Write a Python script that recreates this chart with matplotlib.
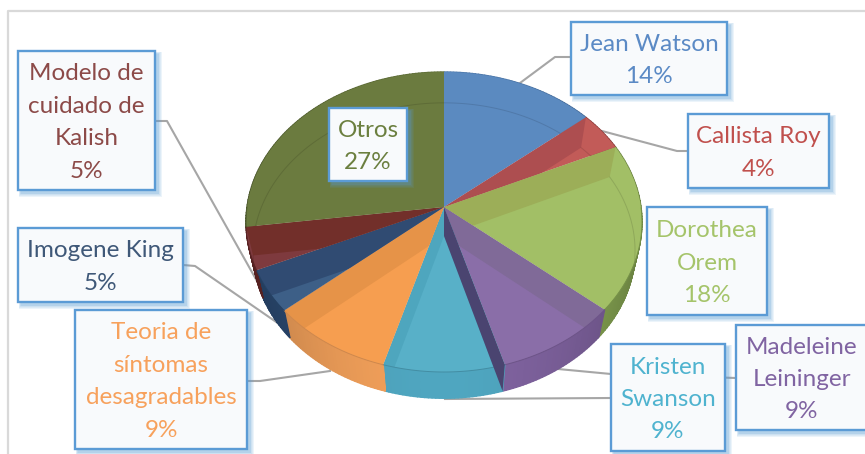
import numpy as np
import matplotlib
matplotlib.use("Agg")
import matplotlib.pyplot as plt
import matplotlib.transforms as mtransforms
from matplotlib.colors import to_rgb
from matplotlib.patches import Rectangle, Polygon

# slices, clockwise from 12 o'clock
names = ["Jean Watson", "Callista Roy", "Dorothea\nOrem", "Madeleine\nLeininger",
         "Kristen\nSwanson", "Teoria de\nsíntomas\ndesagradables", "Imogene King",
         "Modelo de\ncuidado de\nKalish", "Otros"]
values = [13.9, 4.2, 18.1, 9.3, 9.0, 9.2, 4.6, 4.6, 27.1]

top_colors = ["#5B8AC0", "#C25B58", "#A2BF66", "#8A6EA8", "#58B0C8", "#F69E50", "#3D5F87", "#7E3A3E", "#6B7B3F"]
band_colors = ["#5B8AC0", "#AD4E50", "#9CAE58", "#806A98", "#4EA6BE", "#E69348", "#304B72", "#722F2A", "#6B7B3F"]
side_colors = ["#4F7AAD", "#A94A48", "#8BAA55", "#8063A0", "#4FA6C0", "#F2A05A", "#2C4C75", "#6B2A2A", "#5F6E38"]
text_colors = ["#5B8AC5", "#C0504D", "#A5C46A", "#8064A2", "#4FB3CF", "#F7A15C", "#3F5878", "#8C4A48", "#6B7F3F"]

# box left, top, right, bottom in pixels
boxes = [(571, 22, 727, 95), (688, 114, 829, 188), (647, 207, 767, 315), (736, 325, 868, 430),
         (611, 344, 725, 451), (75, 310, 247, 449), (18, 228, 183, 302), (18, 51, 155, 190),
         (329, 108, 407, 181)]

leaders = [[(520, 83), (555, 57), (571, 57)],
           [(602, 131), (677, 151), (688, 151)],
           [(558, 369), (611, 374), (736, 378)],
           [(445, 399), (611, 398)],
           [(330, 371), (260, 381), (247, 381)],
           [(282, 326), (195, 266), (183, 265)],
           [(262, 290), (167, 121), (155, 121)]]

cx, cy = 444, 207
rx, ry, k = 197, 148.5, 0.1
drop = 29


def tilt(x, y):
    # circle seen in perspective, back edge is nearer the apex than the front
    d = 1 + k * y
    return cx + rx * x / d, cy - ry * y / d


def rim(theta, low=False):
    x, y = np.cos(np.radians(theta)), np.sin(np.radians(theta))
    if low:
        px, py = tilt(0.965 * x, 0.985 * y)
        return px, py + drop
    return tilt(x, y)


class Tilt(mtransforms.Transform):
    input_dims = output_dims = 2

    def transform_non_affine(self, xy):
        xy = np.asarray(xy)
        return np.column_stack(tilt(xy[:, 0], xy[:, 1]))


def shade(col, f):
    return tuple(min(1, c * f) for c in to_rgb(col))


fig = plt.figure(figsize=(8.65, 4.54), dpi=100, facecolor="white")
ax = fig.add_axes([0, 0, 1, 1])
wedges, _ = ax.pie(values, startangle=90, counterclock=False, colors=top_colors,
                   wedgeprops=dict(linewidth=0))
ax.set_aspect("auto")
ax.set_xlim(0, 865)
ax.set_ylim(454, 0)
ax.axis("off")

for w in wedges:
    w.set_transform(Tilt() + ax.transData)
    w.set_zorder(3)

# frame
ax.plot([8, 8, 865], [454, 11, 11], color="#D9D9D9", lw=1.6, zorder=0)

for pts in leaders:
    xs, ys = zip(*pts)
    ax.plot(xs, ys, color="#A6A6A6", lw=1.5, zorder=1)

for i, w in enumerate(wedges):
    th = np.arange(w.theta1, w.theta2 + 1, 1.0)
    th[-1] = w.theta2
    # outer wall
    for a, b in zip(th[:-1], th[1:]):
        x1, y1 = rim(a)
        x2, y2 = rim(b)
        x3, y3 = rim(b, True)
        x4, y4 = rim(a, True)
        f = 1 - 0.24 * np.cos(np.radians((a + b) / 2)) ** 2
        ax.add_patch(Polygon([(x1, y1), (x2, y2), (x3, y3), (x4, y4)], closed=True,
                             fc=shade(side_colors[i], f), ec=shade(side_colors[i], f),
                             lw=1.0, zorder=2))
    # inner walls seen through the glass top
    for t in (w.theta1, w.theta2):
        band = Polygon([(cx, cy), rim(t), rim(t, True), (cx, cy + drop)], closed=True,
                       fc=band_colors[i], lw=0, zorder=4)
        ax.add_patch(band)
        band.set_clip_path(w)
    # back rim line
    xs, ys = rim(th, True)
    line, = ax.plot(xs, ys, color=shade(top_colors[i], 0.8), lw=0.7, alpha=0.6, zorder=5)
    line.set_clip_path(w)
    # top edge, only the front half shows a line
    front = np.sin(np.radians(th)) < 0
    xs, ys = rim(th[front])
    ax.plot(xs, ys, color=shade(side_colors[i], 0.85), lw=0.7, zorder=5)

# wall of the purple slice in front of the cyan one
t = wedges[3].theta1
ax.add_patch(Polygon([(cx, cy), rim(t), rim(t, True), (cx, cy + drop)], closed=True,
                     fc="#4A4470", lw=0, zorder=6))

for i, (x0, y0, x1, y1) in enumerate(boxes):
    for n in range(5, 0, -1):
        ax.add_patch(Rectangle((x0 + 3 - n * 0.4, y0 + 3 - n * 0.4), x1 - x0 + n * 1.1, y1 - y0 + n * 1.1,
                               fc="#5B9BD5", ec="none", alpha=0.11, zorder=7 + i * 0.1))
    ax.add_patch(Rectangle((x0, y0), x1 - x0, y1 - y0, fc="#F8FAFC", ec="#5B9BD5", lw=1.7,
                           zorder=7.01 + i * 0.1))
    lines = names[i].split("\n") + ["%d%%" % round(values[i])]
    mid = (y0 + y1) / 2 + 2
    for j, txt in enumerate(lines):
        ax.text((x0 + x1) / 2, mid + (j - (len(lines) - 1) / 2) * 32.5, txt, color=text_colors[i],
                family="Lato", fontsize=17.5, ha="center", va="center", zorder=7.02 + i * 0.1)

fig.savefig("out.png", dpi=100)
